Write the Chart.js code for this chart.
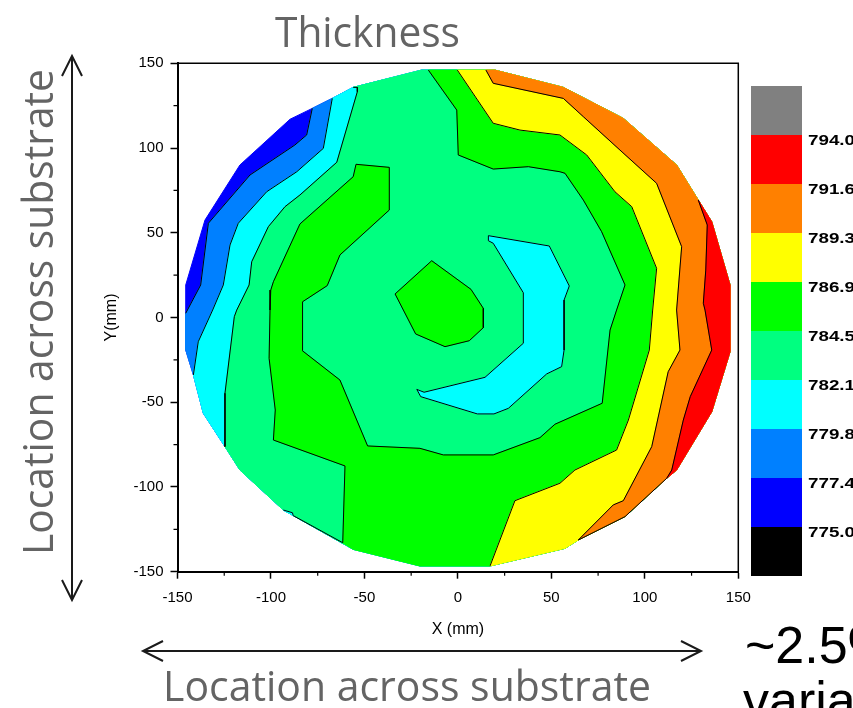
<!DOCTYPE html>
<html><head><meta charset="utf-8">
<script src="https://cdn.jsdelivr.net/npm/chart.js@4.4.0/dist/chart.umd.min.js"></script>
<style>html,body{margin:0;padding:0;background:#fff;}#wrap{width:853px;height:708px;position:relative;}</style>
</head><body><div id="wrap"><canvas id="c" width="853" height="708"></canvas></div>
<script>
// ---- data (mm) ----
const levels = [775.0, 777.4, 779.8, 782.1, 784.5, 786.9, 789.3, 791.6, 794.0];
const bandColors = ['#000000','#0000FF','#0080FF','#00FFFF','#00FF80','#00FF00','#FFFF00','#FF8000','#FF0000','#808080'];
const xTicks = [-150,-100,-50,0,50,100,150];
const yTicks = [-150,-100,-50,0,50,100,150];
const minorTicks = [-125,-75,-25,25,75,125];

const waferEdge = [[-19.4,146.0],[19.8,146.0],[56.4,135.8],[88.5,117.5],[117.0,90.0],[128.6,69.3],[135.8,56.5],[145.6,19.2],[145.6,-20.2],[135.8,-55.6],[117.0,-90.0],[111.7,-94.9],[89.4,-117.5],[64.4,-131.3],[57.3,-136.2],[17.2,-146.6],[-20.3,-146.6],[-56.0,-136.8],[-93.4,-113.6],[-116.6,-90.0],[-124.6,-76.2],[-136.2,-56.5],[-141.5,-33.9],[-145.6,-19.2],[-145.6,19.2],[-135.3,57.5],[-116.6,90.0],[-89.8,117.0],[-77.9,123.4],[-67.2,129.3],[-56.0,135.8]];

const contour777 = [[-77.9,123.4],[-80.9,107.7],[-87.2,101.8],[-111.2,84.1],[-133.5,55.6],[-137.6,19.2],[-145.6,2.5]];
const contour779 = [[-67.2,129.3],[-72.0,99.8],[-86.2,86.0],[-102.3,74.2],[-117.5,55.6],[-121.9,42.8],[-125.5,19.2],[-131.2,4.4],[-138.9,-14.3],[-141.5,-33.9]];
const contour782 = [[-56.0,135.8],[-53.8,135.8],[-53.8,133.2],[-64.8,91.6],[-84.5,72.3],[-92.5,65.4],[-101.4,53.6],[-110.3,32.9],[-111.7,19.2],[-118.3,4.4],[-119.6,0.5],[-124.6,-44.7],[-124.6,-76.2]];
const contour784 = [[-15.8,146.0],[-0.6,122.4],[0.2,95.9],[18.9,87.6],[37.7,89.0],[54.6,86.0],[57.3,85.1],[67.1,69.3],[76.9,50.6],[89.4,19.2],[84.9,4.4],[81.4,-7.4],[77.2,-50.6],[51.9,-63.0],[43.9,-70.9],[18.9,-81.1],[-7.8,-81.1],[-20.3,-77.2],[-48.3,-75.8],[-63.1,-36.9],[-83.2,-19.6],[-83.2,-1.5],[-83.0,9.3],[-69.9,18.8],[-63.1,36.9],[-36.7,63.4],[-36.7,88.6],[-54.5,90.4],[-56.0,83.1],[-84.5,55.2],[-98.7,21.1],[-100.1,16.2],[-100.5,4.4],[-101.0,-24.1],[-97.7,-54.6],[-98.7,-72.3],[-60.4,-87.6],[-61.6,-132.9]];
const contour786 = [[-0.3,146.0],[18.9,114.6],[33.2,110.6],[54.6,107.7],[68.9,95.9],[84.0,74.2],[93.0,65.4],[106.3,29.0],[104.2,4.4],[102.4,-19.2],[91.2,-60.5],[84.9,-78.2],[62.6,-90.0],[54.6,-97.8],[30.5,-108.1],[17.2,-146.6]];
const contour789 = [[15.0,146.0],[18.9,138.2],[56.4,129.3],[67.1,118.5],[86.7,98.8],[106.3,79.2],[119.7,41.8],[117.0,4.4],[118.8,-19.2],[112.5,-32.0],[103.7,-76.2],[88.5,-108.1],[83.1,-110.6],[64.4,-131.3]];
const contour791 = [[128.6,69.3],[133.4,54.6],[132.6,28.0],[131.3,8.4],[132.2,4.4],[135.8,-19.2],[124.3,-46.7],[120.6,-60.5],[114.4,-90.0],[111.7,-94.9]];
const edgeLine789 = [[111.7,-94.9],[89.4,-117.5],[64.4,-131.3]];
const edgeLine782 = [[-93.4,-113.6],[-88.5,-115.2],[-88.1,-116.9],[-61.6,-132.9]];
const edgeLowSpot = [[-93.4,-113.6],[-88.5,-115.2],[-88.1,-116.9]];
const centerHigh = [[-14.0,33.5],[7.0,16.6],[13.6,5.4],[13.6,-6.0],[6.1,-13.7],[-6.9,-17.2],[-22.6,-9.7],[-33.6,13.9]];
const centerLow = [[16.3,48.3],[48.9,42.2],[59.6,18.6],[56.8,10.3],[56.8,-19.2],[55.5,-29.0],[47.5,-33.3],[27.0,-53.6],[19.3,-56.9],[10.4,-56.9],[-19.9,-46.7],[-22.0,-42.4],[-18.1,-44.1],[14.5,-35.3],[35.0,-15.2],[35.0,14.6],[18.9,43.8],[16.3,45.3]];

// ---- build region polygons: contour line + wafer edge arc on its high side ----
const TAU = Math.PI * 2;
const ang = p => Math.atan2(p[1], p[0]);
const mod = a => ((a % TAU) + TAU) % TAU;
function regionAbove(line) {
  const s = line[0], e = line[line.length - 1];
  const a0 = ang(e), span = mod(ang(s) - a0);
  const arc = waferEdge.map(p => ({p, d: mod(ang(p) - a0)}))
    .filter(o => o.d > 1e-3 && o.d < span - 1e-3)
    .sort((a, b) => a.d - b.d).map(o => o.p);
  return line.concat(arc, [s]);
}
const closed = arr => arr.concat([arr[0]]);
const pts = arr => arr.map(([x, y]) => ({x, y}));

const fills = [
  [closed(waferEdge), bandColors[1]],
  [regionAbove(contour777), bandColors[2]],
  [regionAbove(contour779), bandColors[3]],
  [regionAbove(contour782), bandColors[4]],
  [regionAbove(contour784), bandColors[5]],
  [regionAbove(contour786), bandColors[6]],
  [regionAbove(contour789), bandColors[7]],
  [regionAbove(contour791), bandColors[8]],
  [closed(centerHigh), bandColors[5]],
  [closed(centerLow), bandColors[3]],
  [closed(edgeLowSpot), bandColors[3]]
];
const lines = [contour777, contour779, contour782, contour784, contour786, contour789, contour791,
  edgeLine789, edgeLine782, closed(centerHigh), closed(centerLow)];

const datasets = [];
fills.forEach(([poly, col]) => datasets.push({
  data: pts(poly), showLine: true, fill: 'shape', backgroundColor: col,
  borderColor: col, borderWidth: 1, pointRadius: 0, tension: 0
}));
lines.forEach(l => datasets.push({
  data: pts(l), showLine: true, fill: false, borderColor: '#000000',
  borderWidth: 1, pointRadius: 0, tension: 0
}));
const N = datasets.length;
datasets.forEach((d, i) => d.order = N - i);

const FONT = '"Liberation Sans", Arial, sans-serif';

function fitText(ctx, txt, x, y, w, font, color, baseline) {
  ctx.save();
  ctx.font = font; ctx.fillStyle = color; ctx.textBaseline = baseline || 'alphabetic';
  const mw = ctx.measureText(txt).width;
  ctx.translate(x, y); ctx.scale(w / mw, 1);
  ctx.textAlign = 'left';
  ctx.fillText(txt, 0, 0);
  ctx.restore();
}
function arrow(ctx, x1, y1, x2, y2) {
  const L = 20, W = 10;
  ctx.beginPath(); ctx.moveTo(x1, y1); ctx.lineTo(x2, y2); ctx.stroke();
  const dx = x2 - x1, dy = y2 - y1, len = Math.hypot(dx, dy), ux = dx / len, uy = dy / len;
  [[x1, y1, 1], [x2, y2, -1]].forEach(([tx, ty, s]) => {
    ctx.beginPath();
    ctx.moveTo(tx + s * ux * L - uy * W, ty + s * uy * L + ux * W);
    ctx.lineTo(tx, ty);
    ctx.lineTo(tx + s * ux * L + uy * W, ty + s * uy * L - ux * W);
    ctx.stroke();
  });
}

const annot = {
  id: 'annot',
  afterDraw(chart) {
    const ctx = chart.ctx, a = chart.chartArea, xs = chart.scales.x, ys = chart.scales.y;
    ctx.save();
    ctx.strokeStyle = '#000'; ctx.lineWidth = 1.5;
    ctx.beginPath(); ctx.moveTo(a.left, a.top); ctx.lineTo(a.right, a.top); ctx.lineTo(a.right, a.bottom); ctx.stroke();
    ctx.lineWidth = 1.2; ctx.beginPath();
    minorTicks.forEach(v => {
      const px = xs.getPixelForValue(v); ctx.moveTo(px, a.bottom); ctx.lineTo(px, a.bottom + 4);
      const py = ys.getPixelForValue(v); ctx.moveTo(a.left, py); ctx.lineTo(a.left - 4, py);
    });
    ctx.stroke();
    // colour bar
    const bx = 751, bw = 51, by = 86, bh = 49;
    const order = bandColors.slice().reverse();
    order.forEach((c, i) => { ctx.fillStyle = c; ctx.fillRect(bx, by + i * bh, bw, bh); });
    levels.slice().reverse().forEach((v, i) =>
      fitText(ctx, v.toFixed(1), 808, by + (i + 1) * bh + 6, 47, 'bold 14px ' + FONT, '#000', 'middle'));
    // axis titles
    ctx.fillStyle = '#000'; ctx.font = '16px ' + FONT; ctx.textAlign = 'center'; ctx.textBaseline = 'middle';
    ctx.fillText('X (mm)', (a.left + a.right) / 2, 630);
    ctx.save(); ctx.translate(112, (a.top + a.bottom) / 2); ctx.rotate(-Math.PI / 2); ctx.fillText('Y(mm)', 0, 0); ctx.restore();
    // headings
    fitText(ctx, 'Thickness', 275, 47, 185, '42px "Open Sans", sans-serif', '#646464');
    fitText(ctx, 'Location across substrate', 163, 701, 488, '42px "Open Sans", sans-serif', '#646464');
    ctx.save(); ctx.translate(53, 555); ctx.rotate(-Math.PI / 2);
    fitText(ctx, 'Location across substrate', 0, 0, 486, '42px "Open Sans", sans-serif', '#646464');
    ctx.restore();
    ctx.strokeStyle = '#1a1a1a'; ctx.lineWidth = 2;
    arrow(ctx, 72, 56, 72, 600);
    arrow(ctx, 143, 651, 701, 651);
    ctx.fillStyle = '#000'; ctx.font = '52px ' + FONT; ctx.textAlign = 'left'; ctx.textBaseline = 'alphabetic';
    ctx.fillText('~2.5%', 745, 663);
    ctx.fillText('variation', 743, 718);
    ctx.restore();
  }
};

new Chart(document.getElementById('c'), {
  type: 'scatter',
  data: { datasets },
  options: {
    responsive: false, animation: false, events: [],
    layout: { padding: { top: 63.3, right: 114.7, left: 0, bottom: 0 } },
    plugins: { legend: { display: false }, tooltip: { enabled: false } },
    scales: {
      x: {
        type: 'linear', min: -150, max: 150,
        afterFit: s => { s.height = 136.3; },
        afterBuildTicks: s => { s.ticks = xTicks.map(v => ({value: v})); },
        ticks: { color: '#000', font: { family: FONT, size: 15 }, padding: 10, maxRotation: 0 },
        grid: { drawOnChartArea: false, drawTicks: true, tickLength: 7, tickColor: '#000', tickWidth: 1.5 },
        border: { display: true, color: '#000', width: 2 }
      },
      y: {
        type: 'linear', min: -150, max: 150,
        afterFit: s => { s.width = 177.5; },
        afterBuildTicks: s => { s.ticks = yTicks.map(v => ({value: v})); },
        ticks: { color: '#000', font: { family: FONT, size: 15 }, padding: 7 },
        grid: { drawOnChartArea: false, drawTicks: true, tickLength: 7, tickColor: '#000', tickWidth: 1.5 },
        border: { display: true, color: '#000', width: 2 }
      }
    }
  },
  plugins: [annot]
});
</script></body></html>
